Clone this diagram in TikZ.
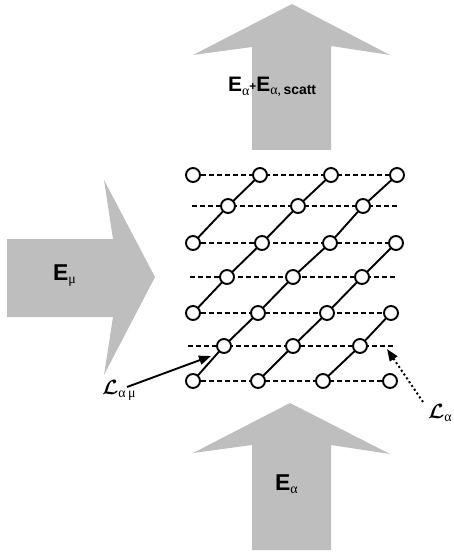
\documentclass[tikz,border=0pt]{standalone}
\usepackage{fontspec}
\setsansfont{Liberation Sans}
\newfontfamily\grk{Liberation Serif}
\usetikzlibrary{arrows.meta}
\definecolor{beam}{RGB}{190,190,190}
\tikzset{
  beamshape/.style={fill=beam,draw=none},
  site/.style={circle,draw,fill=white,line width=1.9bp,minimum size=14bp,inner sep=0pt},
  bond/.style={line width=1.9bp},
  hop/.style={line width=1.9bp,dash pattern=on 5bp off 3bp},
  lbl/.style={inner sep=0pt,anchor=base west},
  pointer/.style={line width=1.9bp,-{Triangle[length=12bp,width=9bp]}},
  dotpointer/.style={line width=2bp,dash pattern=on 2bp off 2.6bp,-{Triangle[length=12bp,width=9bp]}}
}
\newcommand{\bigE}[1]{{\fontsize{#1}{#1}\sffamily\bfseries E}}
\newcommand{\gsub}[2]{\raisebox{-0.35em}{\fontsize{#1}{#1}\grk #2}}
\newcommand{\scriptL}{{\fontsize{22}{22}\selectfont\boldmath$\mathcal{L}$}}
\begin{document}
\begin{tikzpicture}[x=1bp,y=-1bp]
\useasboundingbox (0,0) rectangle (454,555);

% beams
\fill[beamshape] (252,150) -- (252,47) -- (193,55) -- (292,4) -- (390,55) -- (331,46) -- (331,150) -- cycle;
\fill[beamshape] (252,550) -- (252,445) -- (193,453) -- (290,403) -- (390,454) -- (331,445) -- (331,550) -- cycle;
\fill[beamshape] (7,317) -- (7,239) -- (113,239) -- (104,180) -- (155,277) -- (104,375) -- (113,317) -- cycle;

% beam labels
\node[lbl] (Etop) at (228,92) {\bigE{21}\gsub{14}{α}\raisebox{0.15em}{\fontsize{12}{12}\sffamily\bfseries +}\bigE{21}\raisebox{-0.3em}{\fontsize{14}{14}\selectfont{\grk α,}\,\sffamily\bfseries scatt}};
\node[lbl] (Emu) at (53,280) {\bigE{23}\gsub{14}{μ}};
\node[lbl] (Ealpha) at (275,490) {\bigE{23}\gsub{14}{α}};

% lattice sites
\foreach \x [count=\i from 0] in {193,260,331,397} \coordinate (a0\i) at (\x,175);
\foreach \x [count=\i from 0] in {228,298,363} \coordinate (a1\i) at (\x,206);
\foreach \x [count=\i from 0] in {193,262,330,396} \coordinate (a2\i) at (\x,243);
\foreach \x [count=\i from 0] in {227,293,362} \coordinate (a3\i) at (\x,277);
\foreach \x [count=\i from 0] in {193,258,327,391} \coordinate (a4\i) at (\x,313);
\foreach \x [count=\i from 0] in {224,293,360} \coordinate (a5\i) at (\x,346);
\foreach \x [count=\i from 0] in {193,258,323,390} \coordinate (a6\i) at (\x,381);
\coordinate (e1l) at (192,206); \coordinate (e1r) at (400,206);
\coordinate (e3l) at (190,277); \coordinate (e3r) at (398,277);
\coordinate (e5l) at (188,346); \coordinate (e5r) at (395,346);

% dashed couplings along the rows
\foreach \r in {0,2,4,6} \draw[hop] (a\r0) -- (a\r3);
\draw[hop] (e1l) -- (e1r);
\draw[hop] (e3l) -- (e3r);
\draw[hop] (e5l) -- (e5r);

% solid diagonal chains
\draw[bond] (a20) -- (a10) -- (a01);
\draw[bond] (a40) -- (a30) -- (a21) -- (a11) -- (a02);
\draw[bond] (a60) -- (a50) -- (a41) -- (a31) -- (a22) -- (a12) -- (a03);
\draw[bond] (a61) -- (a51) -- (a42) -- (a32) -- (a23);
\draw[bond] (a62) -- (a52) -- (a43);

% circles on top
\foreach \r/\n in {0/3,1/2,2/3,3/2,4/3,5/2,6/3}
  \foreach \i in {0,...,\n} \node[site] (s\r\i) at (a\r\i) {};

% pointer labels
\node[lbl] (Lam) at (102,394) {\scriptL\gsub{14}{α\,μ}};
\node[lbl] (La) at (428,418) {\scriptL\gsub{14}{α}};
\coordinate (pa) at (127,387); \coordinate (pat) at (211,356);
\coordinate (pb) at (423,402); \coordinate (pbt) at (387,349);
\draw[pointer] (pa) -- (pat);
\draw[dotpointer] (pb) -- (pbt);
\end{tikzpicture}
\end{document}
